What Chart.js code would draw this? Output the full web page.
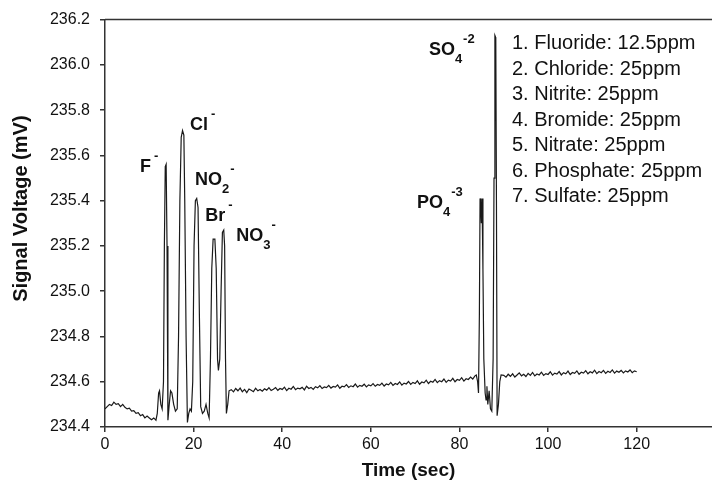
<!DOCTYPE html>
<html>
<head>
<meta charset="utf-8">
<script src="https://cdn.jsdelivr.net/npm/chart.js@4"></script>
<style>
  html, body { margin: 0; padding: 0; background: #fff; }
  #chart { display: block; }
</style>
</head>
<body>
<canvas id="chart" width="712" height="487"></canvas>
<script>
'use strict'

// ---- trace: time (sec) and signal (mV) ----
var timeA = [0, 0.5, 1, 1.5, 2, 2.5, 3, 3.5, 4, 4.5, 5, 5.5, 6, 6.5, 7, 7.5, 8, 8.5, 9, 9.5, 10, 10.5, 11];
var voltA = [234.48, 234.49, 234.50, 234.495, 234.51, 234.50, 234.503, 234.49, 234.50, 234.487, 234.48, 234.483, 234.47, 234.472, 234.46, 234.463, 234.45, 234.455, 234.44, 234.448, 234.44, 234.432, 234.44];

// first group: F-, Cl-, NO2-, Br-, NO3-
var timeB = [11.5, 11.8, 12.1, 12.3, 12.6, 12.9, 13.2, 13.4, 13.6, 13.8, 14.0, 14.2, 14.5, 14.8, 15.1, 15.5, 15.9, 16.3, 16.6, 16.9, 17.2, 17.5, 17.8, 18.0, 18.3, 18.6, 18.9, 19.2, 19.5, 19.8, 20.1, 20.4, 20.7, 21.0, 21.3, 21.6, 22.0, 22.4, 22.8, 23.2, 23.5, 23.8, 24.1, 24.4, 24.8, 25.1, 25.4, 25.6, 25.9, 26.2, 26.5, 26.8, 27.0, 27.2, 27.4, 27.7, 28.0];
var voltB = [234.43, 234.46, 234.55, 234.56, 234.50, 234.48, 234.60, 235.20, 235.55, 235.56, 235.20, 234.43, 234.50, 234.56, 234.55, 234.50, 234.47, 234.48, 234.80, 235.40, 235.68, 235.71, 235.69, 235.40, 234.80, 234.42, 234.46, 234.48, 234.47, 234.60, 235.20, 235.40, 235.41, 235.37, 234.90, 234.49, 234.46, 234.47, 234.50, 234.46, 234.44, 234.70, 235.10, 235.23, 235.23, 235.10, 234.70, 234.65, 234.70, 235.00, 235.26, 235.27, 235.20, 234.70, 234.46, 234.50, 234.56];

// slow baseline between the groups
var timeC = [28.5, 29, 29.5, 30, 30.5, 31, 31.5, 32, 32.5, 33, 33.5, 34, 34.5, 35, 35.5, 36, 36.5, 37, 37.5, 38, 38.5, 39, 39.5, 40, 40.5, 41, 41.5, 42, 42.5, 43, 43.5, 44, 44.5, 45, 45.5, 46, 46.5, 47, 47.5, 48, 48.5, 49, 49.5, 50, 50.5, 51, 51.5, 52, 52.5, 53, 53.5, 54, 54.5, 55, 55.5, 56, 56.5, 57, 57.5, 58, 58.5, 59, 59.5, 60, 60.5, 61, 61.5, 62, 62.5, 63, 63.5, 64, 64.5, 65, 65.5, 66, 66.5, 67, 67.5, 68, 68.5, 69, 69.5, 70, 70.5, 71, 71.5, 72, 72.5, 73, 73.5, 74, 74.5, 75, 75.5, 76, 76.5, 77, 77.5, 78, 78.5, 79, 79.5, 80, 80.5, 81, 81.5, 82, 82.5, 83, 83.5];
var voltC = [234.565, 234.555, 234.570, 234.560, 234.572, 234.556, 234.566, 234.552, 234.568, 234.562, 234.556, 234.571, 234.560, 234.566, 234.558, 234.569, 234.563, 234.574, 234.561, 234.567, 234.574, 234.562, 234.570, 234.566, 234.576, 234.561, 234.571, 234.567, 234.579, 234.565, 234.572, 234.569, 234.575, 234.564, 234.580, 234.570, 234.575, 234.566, 234.578, 234.573, 234.583, 234.570, 234.577, 234.574, 234.584, 234.572, 234.579, 234.576, 234.586, 234.571, 234.580, 234.577, 234.587, 234.575, 234.582, 234.578, 234.590, 234.576, 234.584, 234.580, 234.589, 234.577, 234.586, 234.582, 234.592, 234.580, 234.588, 234.584, 234.594, 234.581, 234.590, 234.586, 234.597, 234.584, 234.592, 234.588, 234.599, 234.585, 234.594, 234.590, 234.601, 234.588, 234.597, 234.592, 234.604, 234.589, 234.599, 234.595, 234.607, 234.592, 234.602, 234.598, 234.610, 234.596, 234.605, 234.600, 234.612, 234.597, 234.607, 234.603, 234.615, 234.600, 234.610, 234.606, 234.618, 234.603, 234.613, 234.610, 234.621, 234.612, 234.626];

// second group: PO4-3, SO4-2
var timeD = [83.8, 84.1, 84.3, 84.5, 84.65, 84.8, 84.95, 85.1, 85.3, 85.5, 85.8, 86.0, 86.2, 86.4, 86.7, 87.0, 87.3, 87.6, 87.8, 88.0, 88.2, 88.35, 88.5, 88.8, 89.1, 89.4];
var voltD = [234.630, 234.600, 234.550, 234.900, 235.410, 235.380, 235.300, 235.410, 235.100, 234.700, 234.550, 234.520, 234.580, 234.500, 234.560, 234.480, 234.470, 234.700, 235.500, 236.130, 236.120, 235.400, 234.450, 234.500, 234.600, 234.630];

// tail
var timeE = [90, 90.5, 91, 91.5, 92, 92.5, 93, 93.5, 94, 94.5, 95, 95.5, 96, 96.5, 97, 97.5, 98, 98.5, 99, 99.5, 100, 100.5, 101, 101.5, 102, 102.5, 103, 103.5, 104, 104.5, 105, 105.5, 106, 106.5, 107, 107.5, 108, 108.5, 109, 109.5, 110, 110.5, 111, 111.5, 112, 112.5, 113, 113.5, 114, 114.5, 115, 115.5, 116, 116.5, 117, 117.5, 118, 118.5, 119, 119.5, 120];
var voltE = [234.628, 234.620, 234.633, 234.624, 234.635, 234.621, 234.630, 234.639, 234.626, 234.633, 234.623, 234.637, 234.628, 234.641, 234.626, 234.634, 234.630, 234.642, 234.628, 234.636, 234.632, 234.644, 234.629, 234.638, 234.634, 234.645, 234.630, 234.640, 234.635, 234.647, 234.632, 234.641, 234.637, 234.648, 234.633, 234.642, 234.638, 234.649, 234.635, 234.644, 234.639, 234.651, 234.636, 234.645, 234.640, 234.650, 234.637, 234.646, 234.641, 234.652, 234.638, 234.647, 234.642, 234.650, 234.639, 234.648, 234.643, 234.652, 234.640, 234.648, 234.644];

var xTicks = [0, 20, 40, 60, 80, 100, 120];
var yTicks = [234.4, 234.6, 234.8, 235.0, 235.2, 235.4, 235.6, 235.8, 236.0, 236.2];

// ion labels: name, subscript, superscript, anchored at a (time, mV) spot
var ionNames = ['F', 'Cl', 'NO', 'Br', 'NO', 'SO', 'PO'];
var ionSubs  = ['', '', '2', '', '3', '4', '4'];
var ionSups  = ['-', '-', '-', '-', '-', '-2', '-3'];
var ionAtT   = [7.9, 19.2, 20.3, 22.6, 29.6, 73.1, 70.4];
var ionAtV   = [235.527, 235.711, 235.470, 235.308, 235.220, 236.045, 235.366];

var sampleLines = [
  '1. Fluoride: 12.5ppm',
  '2. Chloride: 25ppm',
  '3. Nitrite: 25ppm',
  '4. Bromide: 25ppm',
  '5. Nitrate: 25ppm',
  '6. Phosphate: 25ppm',
  '7. Sulfate: 25ppm'
];

var FONT = "'Liberation Sans', Arial, Helvetica, sans-serif";
var INK = '#111';

function buildPoints(){
  var pts = [];
  var ts = [timeA, timeB, timeC, timeD, timeE];
  var vs = [voltA, voltB, voltC, voltD, voltE];
  for (let k = 0; k < ts.length; k++)
    for (let i = 0; i < ts[k].length; i++)
      pts.push({x: ts[k][i], y: vs[k][i]});
  return pts;
}

//------------- frame, y title, ion labels and sample list ------------- //
var decorations = {
  id: 'decorations',
  afterDatasetsDraw: function(chart){
    var ctx = chart.ctx;
    var a = chart.chartArea;
    var xs = chart.scales.x, ys = chart.scales.y;

    ctx.save();
    ctx.strokeStyle = '#333';
    ctx.lineWidth = 1.5;
    ctx.beginPath();
    ctx.moveTo(a.left, a.top);
    ctx.lineTo(a.right, a.top);
    ctx.stroke();

    ctx.fillStyle = INK;

    // y axis title, sits a bit above the middle of the axis like the original
    ctx.save();
    ctx.translate(21, a.top + 189);
    ctx.rotate(-Math.PI / 2);
    ctx.font = 'bold 20px ' + FONT;
    ctx.textAlign = 'center';
    ctx.textBaseline = 'middle';
    ctx.fillText('Signal Voltage (mV)', 0, 0);
    ctx.restore();

    ctx.textBaseline = 'alphabetic';
    ctx.textAlign = 'left';
    for (let i = 0; i < ionNames.length; i++){
      let px = xs.getPixelForValue(ionAtT[i]);
      let py = ys.getPixelForValue(ionAtV[i]);
      ctx.font = 'bold 18px ' + FONT;
      ctx.fillText(ionNames[i], px, py);
      px += ctx.measureText(ionNames[i]).width;
      ctx.font = 'bold 13px ' + FONT;
      if (ionSubs[i]){
        ctx.fillText(ionSubs[i], px, py + 8);
        px += ctx.measureText(ionSubs[i]).width;
      } else {
        px += 2;
      }
      ctx.fillText(ionSups[i], px + 1, py - 12);
    }

    ctx.font = '20px ' + FONT;
    ctx.textBaseline = 'middle';
    for (let i = 0; i < sampleLines.length; i++)
      ctx.fillText(sampleLines[i], a.left + 407, a.top + 24 + i * 25.5);
    ctx.restore();
  }
};

function initChart(){
  var ctx = document.getElementById('chart').getContext('2d');
  Chart.defaults.font.family = FONT;
  Chart.defaults.color = INK;

  return new Chart(ctx, {
    type: 'line',
    data: {
      datasets: [{
        label: 'Signal',
        data: buildPoints(),
        borderColor: '#1a1a1a',
        borderWidth: 1.2,
        pointRadius: 0,
        tension: 0,
        fill: false
      }]
    },
    options: {
      responsive: false,
      animation: false,
      devicePixelRatio: 1,
      layout: { padding: { top: 16, right: 0, left: 0, bottom: 0 } },
      plugins: { legend: { display: false }, tooltip: { enabled: false } },
      scales: {
        x: {
          type: 'linear',
          min: 0,
          max: 137,
          afterBuildTicks: function(s){ s.ticks = xTicks.map(function(v){ return {value: v}; }); },
          afterFit: function(s){ s.height = 60; },
          ticks: { font: { size: 16 }, padding: 3, color: INK, maxRotation: 0 },
          grid: { drawOnChartArea: false, tickLength: 5, color: '#333', lineWidth: 1.5 },
          border: { display: true, color: '#333', width: 1.5 },
          title: { display: true, text: 'Time (sec)', font: { size: 19, weight: 'bold' }, color: INK, padding: { top: 0, bottom: 5 } }
        },
        y: {
          min: 234.4,
          max: 236.2,
          afterBuildTicks: function(s){ s.ticks = yTicks.map(function(v){ return {value: v}; }); },
          afterFit: function(s){ s.width = 105; },
          ticks: { font: { size: 16 }, padding: 10, color: INK, callback: function(v){ return Number(v).toFixed(1); } },
          grid: { drawOnChartArea: false, tickLength: 5, color: '#333', lineWidth: 1.5 },
          border: { display: true, color: '#333', width: 1.5 },
          title: { display: false }
        }
      }
    },
    plugins: [decorations]
  });
}

var myChart = initChart();
</script>
</body>
</html>
